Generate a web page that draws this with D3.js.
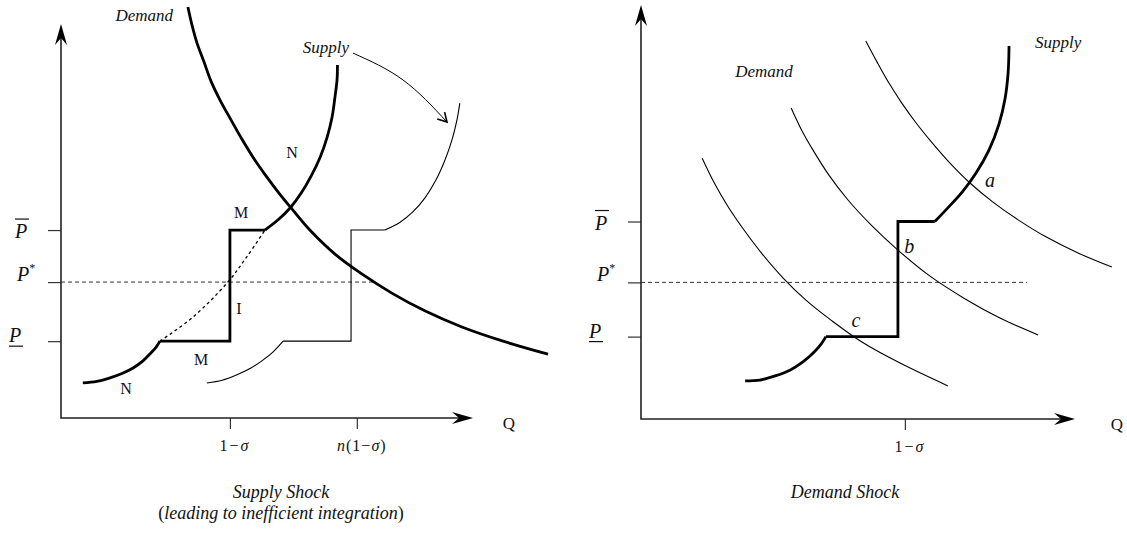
<!DOCTYPE html>
<html lang="en">
<head>
<meta charset="UTF-8">
<title>Supply Shock / Demand Shock</title>
<script src="https://d3js.org/d3.v7.min.js"></script>
<style>
  body { margin: 0; background: #fff; }
  svg text { font-family: "Liberation Serif", "Times New Roman", serif; fill: #111; }
</style>
</head>
<body>
<script>
// Model units: Q and P both run 0..100 along each axis (arrow tip = 100)

// ---- left panel: Supply Shock ----
const ssQTicks = [41.0, 71.8];                 // 1-sigma, n(1-sigma)
const ssPTicks = [47.7, 34.5, 19.5];           // P bar, P*, P underbar
const ssDemand = [[30.8,104.3],[31.8,99.7],[33.0,95.2],[34.7,90.4],[36.4,85.5],[38.6,80.7],[41.3,75.6],
                  [43.9,70.8],[46.6,66.2],[49.8,61.4],[52.9,57.1],[56.1,53.0],[60.4,47.7],[66.5,41.6],
                  [73.1,36.5],[80.3,31.7],[88.3,27.2],[97.3,23.1],[107.3,19.5],[118.2,16.2]];
const ssSupplyLow = [[5.3,8.9],[8.7,9.3],[11.9,10.2],[14.8,11.3],[17.5,12.7],[19.9,14.5],[21.8,16.5],[23.1,18.0],[24.0,19.5]];
const ssSupplyStep = [[24.0,19.5],[41.0,19.5],[41.0,47.7],[49.5,47.7]];
const ssSupplyHigh = [[49.5,47.7],[52.7,50.3],[55.6,53.3],[58.3,57.1],[60.7,61.4],[62.9,66.2],[64.6,71.3],
                      [65.8,76.4],[66.5,81.5],[67.0,85.8],[67.1,89.6]];
const ssSupplyGap = [[24.0,19.5],[32.0,25.6],[40.5,34.5],[45.1,40.9],[49.5,47.7]];
const ssShiftLow = [[35.4,8.9],[39.1,9.6],[42.7,11.0],[46.1,12.7],[49.0,14.7],[51.5,16.8],[53.9,19.5]];
const ssShiftStep = [[53.9,19.5],[70.4,19.5],[70.4,47.7],[78.6,47.7]];
const ssShiftHigh = [[78.6,47.7],[82.3,49.7],[85.4,52.3],[88.3,55.8],[91.0,60.4],[93.2,65.5],[94.9,70.6],
                     [96.1,75.6],[96.8,79.9]];
const ssShiftArrow = [[70.9,92.6],[83.0,85.8],[93.7,75.1]];
const ssPStarEnd = 76.2;
const ssNotes = [
  {t:'Demand', q:27.2, p:100.8, kind:'curve', anchor:'end'},
  {t:'Supply', q:58.7, p:92.6, kind:'curve', anchor:'start'},
  {t:'N', q:56.1, p:67.5, kind:'mark'},
  {t:'M', q:43.7, p:52.3, kind:'mark'},
  {t:'I', q:43.2, p:27.9, kind:'mark'},
  {t:'M', q:34.0, p:15.0, kind:'mark'},
  {t:'N', q:15.8, p:7.6, kind:'mark'}
];

// ---- right panel: Demand Shock ----
const dsQTicks = [60.8];
const dsPTicks = [47.7, 33.0, 19.9];
const dsSupplyLow = [[24.0,9.2],[27.4,9.4],[30.9,10.4],[34.3,11.8],[37.3,13.8],[39.9,16.2],[41.5,18.1],[42.6,19.9]];
const dsSupplyStep = [[42.6,19.9],[59.2,19.9],[59.2,47.7],[67.7,47.7]];
const dsSupplyHigh = [[67.7,47.7],[70.7,51.0],[74.0,54.8],[77.2,59.4],[80.2,65.0],[82.5,71.3],[83.9,77.5],
                      [84.6,83.8],[84.8,90.1]];
const dsDemand1 = [[14.1,63.0],[16.8,57.2],[20.0,51.4],[23.7,45.7],[27.9,39.9],[32.7,34.1],[38.0,28.7],
                   [44.0,23.7],[50.9,18.6],[59.7,13.5],[70.7,8.0]];
const dsDemand2 = [[34.6,75.1],[36.9,70.0],[39.6,65.0],[43.3,58.9],[47.7,52.9],[53.0,46.9],[59.2,40.8],
                   [66.6,34.5],[74.7,29.0],[82.7,24.4],[91.5,20.3]];
const dsDemand3 = [[51.8,91.3],[54.4,86.2],[57.1,81.2],[60.1,76.3],[63.4,71.5],[67.1,66.7],[71.2,61.8],
                   [75.8,57.0],[81.1,52.4],[86.9,48.1],[93.3,44.0],[100.7,40.1],[108.5,36.7]];
const dsPStarEnd = 88.9;
const dsNotes = [
  {t:'Demand', q:21.7, p:82.6, kind:'curve', anchor:'start'},
  {t:'Supply', q:90.8, p:89.6, kind:'curve', anchor:'start'},
  {t:'a', q:80.4, p:57.7, kind:'point'},
  {t:'b', q:61.8, p:41.8, kind:'point'},
  {t:'c', q:49.5, p:23.9, kind:'point'}
];

const width = 1127, height = 537;
const svg = d3.select('body').append('svg')
    .attr('width', width)
    .attr('height', height);

svg.append('defs').append('marker')
    .attr('id', 'openArrow')
    .attr('viewBox', '-10 -6 12 12')
    .attr('markerWidth', 12).attr('markerHeight', 12)
    .attr('markerUnits', 'userSpaceOnUse')
    .attr('orient', 'auto')
    .append('path')
    .attr('d', 'M-9,-5 L0,0 L-9,5')
    .attr('fill', 'none').attr('stroke', '#000').attr('stroke-width', 1.6);

const curve = d3.line().curve(d3.curveCatmullRom.alpha(0.5));
const straight = d3.line();

function drawPanel(opt) {
    const x = opt.x, y = opt.y;
    const g = svg.append('g');
    const pts = d => d.map(p => [x(p[0]), y(p[1])]);

    // P* dashed line
    g.append('line')
        .attr('x1', x(0)).attr('x2', x(opt.pStarEnd))
        .attr('y1', y(opt.pTicks[1])).attr('y2', y(opt.pTicks[1]))
        .attr('stroke', '#333').attr('stroke-width', 1).attr('stroke-dasharray', '4,3');

    // ticks through d3 axes
    g.append('g')
        .attr('transform', `translate(0,${y(0)})`)
        .call(d3.axisBottom(x).tickValues(opt.qTicks).tickSize(11).tickFormat(''))
        .call(a => a.select('.domain').remove())
        .selectAll('line').attr('stroke', '#333').attr('stroke-width', 1.2);
    g.append('g')
        .attr('transform', `translate(${x(0)},0)`)
        .call(d3.axisLeft(y).tickValues(opt.pTicks).tickSize(13).tickFormat(''))
        .call(a => a.select('.domain').remove())
        .selectAll('line').attr('stroke', '#333').attr('stroke-width', 1.2);

    // axis lines with arrowheads
    const ox = x(0), oy = y(0), tx = x(100), ty = y(100);
    g.append('path')
        .attr('d', `M${ox},${ty + 4} L${ox},${oy} L${tx - 4},${oy}`)
        .attr('fill', 'none').attr('stroke', '#222').attr('stroke-width', 1.6);
    g.append('path')
        .attr('d', `M${tx},${oy} L${tx - 21},${oy - 6} L${tx - 14},${oy} L${tx - 21},${oy + 6} Z`)
        .attr('fill', '#000');
    g.append('path')
        .attr('d', `M${ox},${ty} L${ox - 6},${ty + 21} L${ox},${ty + 14} L${ox + 6},${ty + 21} Z`)
        .attr('fill', '#000');

    // curves
    opt.thin.forEach(d => g.append('path').attr('d', curve(pts(d)))
        .attr('fill', 'none').attr('stroke', '#000').attr('stroke-width', 1.1));
    opt.thinSteps.forEach(d => g.append('path').attr('d', straight(pts(d)))
        .attr('fill', 'none').attr('stroke', '#000').attr('stroke-width', 1.1));
    opt.thick.forEach(d => g.append('path').attr('d', curve(pts(d)))
        .attr('fill', 'none').attr('stroke', '#000').attr('stroke-width', 2.8));
    opt.thickSteps.forEach(d => g.append('path').attr('d', straight(pts(d)))
        .attr('fill', 'none').attr('stroke', '#000').attr('stroke-width', 2.8)
        .attr('stroke-linejoin', 'miter'));
    if (opt.dotted) {
        g.append('path').attr('d', curve(pts(opt.dotted)))
            .attr('fill', 'none').attr('stroke', '#000').attr('stroke-width', 1.3)
            .attr('stroke-dasharray', '3,3');
    }
    if (opt.arrow) {
        g.append('path').attr('d', d3.line().curve(d3.curveNatural)(pts(opt.arrow)))
            .attr('fill', 'none').attr('stroke', '#000').attr('stroke-width', 1)
            .attr('marker-end', 'url(#openArrow)');
    }

    // price tick labels: P bar, P*, P underbar
    const pBar = y(opt.pTicks[0]), pStar = y(opt.pTicks[1]), pLow = y(opt.pTicks[2]);
    g.append('text').attr('x', ox - 46).attr('y', pBar + 8)
        .style('font-size', '20px').style('font-style', 'italic').text('P');
    g.append('line').attr('x1', ox - 46).attr('x2', ox - 32)
        .attr('y1', pBar - 11).attr('y2', pBar - 11).attr('stroke', '#111').attr('stroke-width', 1.2);
    const ps = g.append('text').attr('x', ox - 44).attr('y', pStar - 1)
        .style('font-size', '20px').style('font-style', 'italic').text('P');
    ps.append('tspan').attr('dy', -9).style('font-size', '12px').style('font-style', 'normal').text('*');
    g.append('text').attr('x', ox - 52).attr('y', pLow + 1)
        .style('font-size', '20px').style('font-style', 'italic').text('P');
    g.append('line').attr('x1', ox - 52).attr('x2', ox - 38)
        .attr('y1', pLow + 5).attr('y2', pLow + 5).attr('stroke', '#111').attr('stroke-width', 1.2);

    // quantity tick labels
    opt.qLabels.forEach((parts, i) => {
        const t = g.append('text')
            .attr('x', x(opt.qTicks[i]) + 5).attr('y', oy + 33)
            .attr('text-anchor', 'middle')
            .style('font-size', parts.size + 'px')
            .style('letter-spacing', parts.spacing + 'px');
        parts.spans.forEach(s => t.append('tspan')
            .style('font-style', s[1] ? 'italic' : 'normal').text(s[0]));
    });
    g.append('text').attr('x', tx + opt.qGap).attr('y', oy + 11)
        .attr('text-anchor', 'middle').style('font-size', '17px').text('Q');

    // annotations
    opt.notes.forEach(n => {
        const t = g.append('text')
            .attr('x', x(n.q)).attr('y', y(n.p))
            .attr('text-anchor', n.anchor || 'middle');
        if (n.kind === 'curve') {
            t.style('font-size', '17px').style('font-style', 'italic').text(n.t);
        } else if (n.kind === 'point') {
            t.attr('dy', '0.35em').style('font-size', '20px').style('font-style', 'italic').text(n.t);
        } else {
            t.attr('dy', '0.35em').style('font-size', '16px').text(n.t);
        }
    });

    // caption
    opt.caption.forEach((line, i) => {
        const t = g.append('text')
            .attr('x', opt.captionX).attr('y', 498 + i * 21)
            .attr('text-anchor', 'middle').style('font-size', '18px');
        line.forEach(s => t.append('tspan')
            .style('font-style', s[1] ? 'italic' : 'normal').text(s[0]));
    });
}

drawPanel({
    x: d3.scaleLinear().domain([0, 100]).range([61, 473]),
    y: d3.scaleLinear().domain([0, 100]).range([418, 24]),
    qTicks: ssQTicks, pTicks: ssPTicks, pStarEnd: ssPStarEnd,
    thick: [ssDemand, ssSupplyLow, ssSupplyHigh],
    thickSteps: [ssSupplyStep],
    thin: [ssShiftLow, ssShiftHigh],
    thinSteps: [ssShiftStep],
    dotted: ssSupplyGap,
    arrow: ssShiftArrow,
    notes: ssNotes,
    qLabels: [
        {size: 16, spacing: 2, spans: [['1−', false], ['σ', true]]},
        {size: 16, spacing: 1, spans: [['n', true], ['(1−', false], ['σ', true], [')', false]]}
    ],
    qGap: 36,
    captionX: 281,
    caption: [[['Supply Shock', true]],
              [['(', false], ['leading to inefficient integration', true], [')', false]]]
});

drawPanel({
    x: d3.scaleLinear().domain([0, 100]).range([641, 1075]),
    y: d3.scaleLinear().domain([0, 100]).range([419, 5]),
    qTicks: dsQTicks, pTicks: dsPTicks, pStarEnd: dsPStarEnd,
    thick: [dsSupplyLow, dsSupplyHigh],
    thickSteps: [dsSupplyStep],
    thin: [dsDemand1, dsDemand2, dsDemand3],
    thinSteps: [],
    notes: dsNotes,
    qLabels: [{size: 16, spacing: 2, spans: [['1−', false], ['σ', true]]}],
    qGap: 42,
    captionX: 845,
    caption: [[['Demand Shock', true]]]
});
</script>
</body>
</html>
